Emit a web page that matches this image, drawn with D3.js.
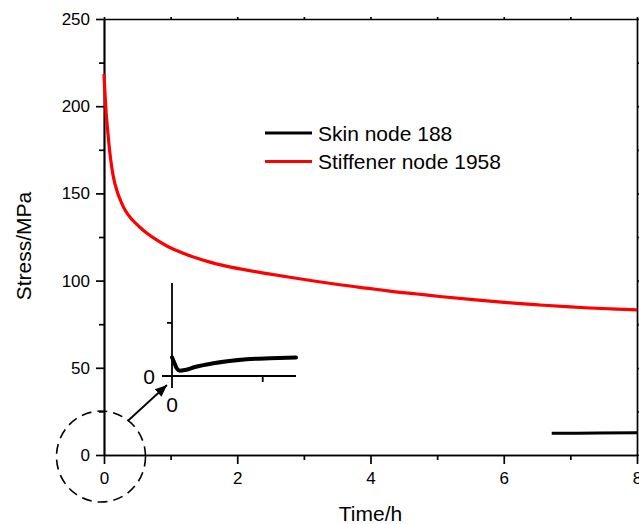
<!DOCTYPE html>
<html>
<head>
<meta charset="utf-8">
<script src="https://cdn.jsdelivr.net/npm/d3@7"></script>
<style>
  html, body { margin: 0; padding: 0; background: #fff; }
  svg { display: block; font-family: "Liberation Sans", Arial, sans-serif; }
</style>
</head>
<body>
<svg id="chart" width="639" height="524"></svg>
<script>
// Stress history of the two monitored nodes
const stiffenerTime   = [0, 0.01, 0.025, 0.05, 0.075, 0.1, 0.14, 0.2, 0.26, 0.32, 0.42, 0.53, 0.65, 0.79, 0.95,
                         1.17, 1.4, 1.59, 1.8, 2.04, 2.4, 2.79, 3.2, 3.54, 4.0, 4.29, 4.7, 5.04, 5.5, 5.79,
                         6.2, 6.54, 7.0, 7.29, 7.7, 8];
const stiffenerStress = [218.5, 211, 200, 188.3, 178.0, 169.5, 159.6, 150.8, 144.9, 140.2, 135.0, 130.9, 127.0, 123.3, 119.7,
                         116.0, 112.8, 110.6, 108.6, 106.7, 104.3, 101.9, 99.5, 97.6, 95.4, 94.0, 92.3, 90.9, 89.2, 88.2,
                         86.9, 86.0, 84.9, 84.3, 83.6, 83.2];

const skinTime   = [6.72, 7.4, 8];
const skinStress = [12.4, 12.6, 12.7];

// Close-up of the skin node near t = 0
const insetTime   = [0, 0.0066, 0.015, 0.026, 0.043, 0.076, 0.137, 0.247, 0.324, 0.41];
const insetStress = [7.0, 5.3, 3.0, 2.0, 2.26, 3.4, 4.8, 6.3, 6.7, 7.0];

const xMajorTicks = [0, 2, 4, 6, 8];
const xMinorTicks = [1, 3, 5, 7];
const yMajorTicks = [0, 50, 100, 150, 200, 250];
const yMinorTicks = [25, 75, 125, 175, 225];

const seriesNames = ["Skin node 188", "Stiffener node 1958"];
const seriesColors = ["#000000", "#ff0000"];

const W = 639, H = 524;
const margin = { top: 19, right: 2, bottom: 69, left: 104 };
const svg = d3.select("#chart");

const x = d3.scaleLinear().domain([0, 8]).range([margin.left, W - margin.right]);
const y = d3.scaleLinear().domain([0, 250]).range([H - margin.bottom, margin.top]);

const axisW = 1.7;
function styleAxis(g) {
  g.select(".domain").attr("stroke", "#000").attr("stroke-width", axisW);
  g.selectAll(".tick line").attr("stroke", "#000").attr("stroke-width", axisW);
  g.selectAll(".tick text").attr("fill", "#000").attr("font-size", 17);
}

// bottom axis
svg.append("g").attr("transform", `translate(0,${y(0)})`)
  .call(d3.axisBottom(x).tickValues(xMajorTicks).tickFormat(d3.format("d")).tickSize(9).tickPadding(8).tickSizeOuter(0))
  .call(styleAxis);
svg.append("g").attr("transform", `translate(0,${y(0)})`)
  .call(d3.axisBottom(x).tickValues(xMinorTicks).tickFormat("").tickSize(5).tickSizeOuter(0))
  .call(styleAxis);

// left axis
svg.append("g").attr("transform", `translate(${x(0)},0)`)
  .call(d3.axisLeft(y).tickValues(yMajorTicks).tickFormat(d3.format("d")).tickSize(8).tickPadding(6).tickSizeOuter(0))
  .call(styleAxis);
svg.append("g").attr("transform", `translate(${x(0)},0)`)
  .call(d3.axisLeft(y).tickValues(yMinorTicks).tickFormat("").tickSize(5).tickSizeOuter(0))
  .call(styleAxis);

// top axis (frame)
svg.append("g").attr("transform", `translate(0,${y(250)})`)
  .call(d3.axisTop(x).tickValues(xMajorTicks.concat(xMinorTicks)).tickFormat("").tickSize(2).tickSizeOuter(0))
  .call(styleAxis);

// right axis (frame)
svg.append("g").attr("transform", `translate(${x(8)},0)`)
  .call(d3.axisRight(y).tickValues(yMajorTicks.concat(yMinorTicks)).tickFormat("").tickSize(5).tickSizeOuter(0))
  .call(styleAxis);

// axis titles
svg.append("text")
  .attr("x", (x(0) + x(8)) / 2).attr("y", 521)
  .attr("text-anchor", "middle").attr("font-size", 21).text("Time/h");
svg.append("text")
  .attr("transform", `translate(31,${246}) rotate(-90)`)
  .attr("text-anchor", "middle").attr("font-size", 21).text("Stress/MPa");

// series lines
const line = d3.line().x(d => x(d[0])).y(d => y(d[1])).curve(d3.curveMonotoneX);
svg.append("path")
  .datum(stiffenerTime.map((t, i) => [t, stiffenerStress[i]]))
  .attr("d", line).attr("fill", "none")
  .attr("stroke", seriesColors[1]).attr("stroke-width", 3.2);
svg.append("path")
  .datum(skinTime.map((t, i) => [t, skinStress[i]]))
  .attr("d", line).attr("fill", "none")
  .attr("stroke", seriesColors[0]).attr("stroke-width", 3);

// legend
const legend = svg.append("g").attr("transform", "translate(265,133)");
seriesNames.forEach((name, i) => {
  const row = legend.append("g").attr("transform", `translate(0,${i * 28.5})`);
  row.append("line").attr("x1", 0).attr("x2", 47).attr("y1", 0).attr("y2", 0)
    .attr("stroke", seriesColors[i]).attr("stroke-width", 3);
  row.append("text").attr("x", 53).attr("y", 0).attr("dy", "0.36em")
    .attr("font-size", 21).text(name);
});

// inset close-up
const xi = d3.scaleLinear().domain([0, 0.41]).range([172, 296]);
const yi = d3.scaleLinear().domain([0, 35]).range([376, 283]);
const inset = svg.append("g");
const insetW = 1.8;
// y axis of inset, extended below origin as the x = 0 tick
inset.append("line").attr("x1", xi(0)).attr("x2", xi(0)).attr("y1", yi(35)).attr("y2", yi(0) + 12)
  .attr("stroke", "#000").attr("stroke-width", insetW);
// x axis of inset, extended left of origin as the y = 0 tick
inset.append("line").attr("x1", xi(0) - 10).attr("x2", xi(0.41)).attr("y1", yi(0)).attr("y2", yi(0))
  .attr("stroke", "#000").attr("stroke-width", insetW);
inset.append("line").attr("x1", xi(0) - 5).attr("x2", xi(0)).attr("y1", yi(20)).attr("y2", yi(20))
  .attr("stroke", "#000").attr("stroke-width", insetW);
inset.append("line").attr("x1", xi(0.3)).attr("x2", xi(0.3)).attr("y1", yi(0)).attr("y2", yi(0) + 6)
  .attr("stroke", "#000").attr("stroke-width", insetW);
inset.append("text").attr("x", xi(0) - 17).attr("y", yi(0)).attr("dy", "0.36em")
  .attr("text-anchor", "end").attr("font-size", 21).text("0");
inset.append("text").attr("x", xi(0)).attr("y", yi(0) + 21).attr("dy", "0.71em")
  .attr("text-anchor", "middle").attr("font-size", 21).text("0");
const insetLine = d3.line().x(d => xi(d[0])).y(d => yi(d[1])).curve(d3.curveMonotoneX);
inset.append("path")
  .datum(insetTime.map((t, i) => [t, insetStress[i]]))
  .attr("d", insetLine).attr("fill", "none")
  .attr("stroke", "#000").attr("stroke-width", 4).attr("stroke-linecap", "round");

// dashed circle marking the zoomed region
svg.append("ellipse")
  .attr("cx", x(-0.045)).attr("cy", y(-0.9)).attr("rx", 44.5).attr("ry", 45.5)
  .attr("fill", "none").attr("stroke", "#000").attr("stroke-width", 1.6)
  .attr("stroke-dasharray", "10,6");

// arrow from the circle to the inset
svg.append("defs").append("marker")
  .attr("id", "arrowhead").attr("viewBox", "0 0 12 10")
  .attr("refX", 12).attr("refY", 5)
  .attr("markerWidth", 12).attr("markerHeight", 10)
  .attr("markerUnits", "userSpaceOnUse").attr("orient", "auto")
  .append("path").attr("d", "M0,0 L12,5 L0,10 Z").attr("fill", "#000");
svg.append("line")
  .attr("x1", x(0.356)).attr("y1", y(19.5))
  .attr("x2", xi(0) - 5).attr("y2", yi(0) + 9)
  .attr("stroke", "#000").attr("stroke-width", 1.8)
  .attr("marker-end", "url(#arrowhead)");
</script>
</body>
</html>
